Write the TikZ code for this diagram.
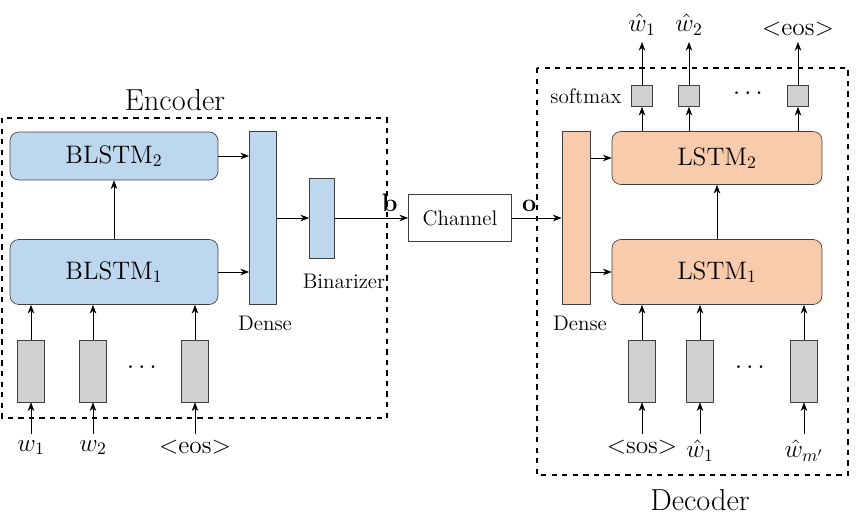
\documentclass[tikz,border=0pt]{standalone}
\usepackage{amssymb}
\usetikzlibrary{arrows.meta}
\definecolor{encblue}{RGB}{189,215,238}
\definecolor{decorange}{RGB}{248,203,173}
\definecolor{bargray}{RGB}{208,208,208}
\begin{document}
\begin{tikzpicture}[x=0.02cm,y=-0.02cm,
  enc/.style={draw=black!75,fill=encblue,rounded corners=5pt,font=\Large},
  dec/.style={draw=black!75,fill=decorange,rounded corners=5pt,font=\Large},
  bar/.style={draw=black!75,fill=bargray,minimum width=0.54cm,minimum height=1.24cm,inner sep=0pt},
  sm/.style={draw=black!75,fill=bargray,minimum size=0.42cm,inner sep=0pt},
  frame/.style={draw,dashed,thick},
  lbl/.style={font=\large},
  >={Stealth[length=5pt]}]
\useasboundingbox (0,0) rectangle (856,520);
% encoder
\draw[frame] (2,118) rectangle (387,418);
\node[font=\LARGE] at (175,100) {Encoder};
\node[enc,minimum width=4.16cm,minimum height=0.96cm] (bl2) at (114,156) {BLSTM$_2$};
\node[enc,minimum width=4.16cm,minimum height=1.3cm] (bl1) at (114,272) {BLSTM$_1$};
\node[draw=black!75,fill=encblue,minimum width=0.54cm,minimum height=3.46cm,inner sep=0pt] (edense) at (263,218) {};
\node[lbl] at (265,323) {Dense};
\node[draw=black!75,fill=encblue,minimum width=0.5cm,minimum height=1.6cm,inner sep=0pt] (binar) at (322,218) {};
\node[lbl] at (344,281) {Binarizer};
\foreach \n/\x/\t in {a/31/$w_1$,b/93/$w_2$,c/195/<eos>}{
  \node[bar] (ein\n) at (\x,371) {};
  \node[font=\Large,anchor=north] (ew\n) at (\x,434) {\t};
  \draw[->] (ew\n.north) -- (ein\n.south);
  \draw[->] (ein\n.north) -- (ein\n.north |- bl1.south);
}
\node[font=\Large] at (142,368) {$\cdots$};
\draw[->] (bl1) -- (bl2);
\draw[->] (bl2.east) -- (bl2.east -| edense.west);
\draw[->] (bl1.east) -- (bl1.east -| edense.west);
\draw[->] (edense) -- (binar);
% channel
\node[draw=black!75,minimum width=2.06cm,minimum height=0.94cm,font=\large] (chan) at (460,218) {Channel};
\draw[->] (binar) -- node[above,pos=0.75,font=\Large\bfseries] {b} (chan);
\node[draw=black!75,fill=decorange,minimum width=0.56cm,minimum height=3.46cm,inner sep=0pt] (ddense) at (576,218) {};
\draw[->] (chan) -- node[above,pos=0.35,font=\Large\bfseries] {o} (ddense);
% decoder
\draw[frame] (537,68) rectangle (848,475);
\node[font=\LARGE] at (700,500) {Decoder};
\node[lbl] at (580,323) {Dense};
\node[dec,minimum width=4.2cm,minimum height=1.06cm] (ls2) at (717,158) {LSTM$_2$};
\node[dec,minimum width=4.2cm,minimum height=1.3cm] (ls1) at (717,272) {LSTM$_1$};
\draw[->] (ls1) -- (ls2);
\draw[->] (ddense.east |- ls2.west) -- (ls2.west);
\draw[->] (ddense.east |- ls1.west) -- (ls1.west);
\foreach \n/\x/\t in {a/642/$\hat{w}_1$,b/689/$\hat{w}_2$,c/798/<eos>}{
  \node[sm] (sm\n) at (\x,96) {};
  \node[font=\Large,anchor=south] (ow\n) at (\x,42) {\t};
  \draw[->] (sm\n.south |- ls2.north) -- (sm\n.south);
  \draw[->] (sm\n.north) -- (ow\n.south);
}
\node[lbl] at (586,96) {softmax};
\node[font=\Large] at (748,94) {$\cdots$};
\foreach \n/\x/\t in {a/642/<sos>,b/700/$\hat{w}_1$,c/804/$\hat{w}_{m'}$}{
  \node[bar] (din\n) at (\x,371) {};
  \node[font=\Large,anchor=north] (dw\n) at (\x,434) {\t};
  \draw[->] (dw\n.north) -- (din\n.south);
  \draw[->] (din\n.north) -- (din\n.north |- ls1.south);
}
\node[font=\Large] at (750,368) {$\cdots$};
\end{tikzpicture}
\end{document}
